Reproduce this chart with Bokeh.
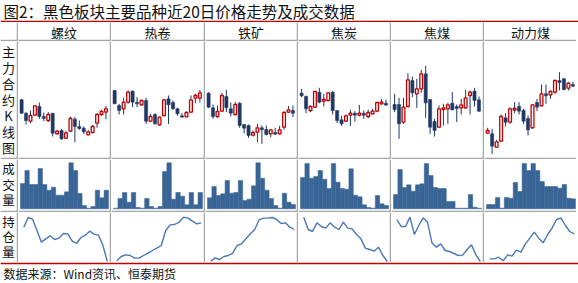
from bokeh.plotting import figure
from bokeh.layouts import column, row
from bokeh.models import Range1d
from bokeh.core.properties import value
from bokeh.embed import file_html
from bokeh.resources import INLINE

# ---------------- data (relative price/volume units) ----------------
title_text = "图2：黑色板块主要品种近20日价格走势及成交数据"
source_text = "数据来源：Wind资讯、恒泰期货"
products = ["螺纹", "热卷", "铁矿", "焦炭", "焦煤", "动力煤"]
row_labels = ["主力合约K线图", "成交量", "持仓量"]
days = list(range(1, 21))

rebar_open = [182, 142, 118, 136, 162, 132, 120, 142, 80, 90, 67, 88, 124, 102, 97, 77, 84, 112, 138, 145]
rebar_high = [185, 145, 150, 164, 174, 144, 145, 142, 92, 94, 88, 132, 130, 120, 102, 92, 106, 142, 152, 164]
rebar_low = [140, 108, 112, 135, 125, 118, 115, 72, 78, 62, 64, 85, 55, 92, 80, 77, 82, 98, 134, 124]
rebar_close = [142, 120, 135, 164, 132, 126, 138, 82, 88, 65, 83, 126, 102, 96, 86, 86, 102, 138, 147, 155]

hc_open = [210, 165, 155, 175, 208, 175, 167, 180, 118, 138, 107, 135, 185, 174, 155, 134, 131, 145, 187, 187]
hc_high = [210, 170, 188, 210, 210, 190, 182, 188, 140, 142, 132, 185, 195, 180, 158, 142, 147, 195, 200, 212]
hc_low = [170, 138, 138, 170, 160, 160, 164, 110, 115, 108, 104, 132, 110, 152, 134, 130, 130, 142, 172, 174]
hc_close = [170, 150, 175, 205, 175, 170, 180, 118, 132, 110, 130, 182, 167, 155, 140, 130, 144, 182, 195, 203]

ore_open = [202, 158, 132, 148, 192, 155, 138, 172, 108, 105, 76, 85, 98, 93, 80, 84, 80, 100, 145, 150]
ore_high = [205, 168, 165, 202, 212, 174, 175, 175, 108, 108, 90, 110, 105, 105, 95, 98, 104, 148, 163, 165]
ore_low = [158, 125, 128, 145, 145, 132, 135, 98, 82, 68, 72, 55, 50, 75, 70, 77, 78, 92, 143, 130]
ore_close = [160, 132, 147, 195, 158, 142, 168, 105, 97, 75, 84, 98, 92, 78, 92, 79, 92, 144, 152, 142]

coke_open = [202, 192, 150, 160, 205, 178, 180, 205, 150, 122, 118, 136, 142, 136, 142, 132, 140, 148, 170, 172]
coke_high = [215, 195, 165, 207, 218, 200, 205, 208, 150, 134, 138, 152, 148, 167, 150, 153, 155, 175, 185, 182]
coke_low = [190, 142, 145, 158, 172, 162, 178, 138, 112, 104, 115, 104, 117, 132, 125, 127, 138, 145, 168, 166]
coke_close = [194, 155, 162, 207, 175, 183, 203, 150, 120, 110, 134, 142, 136, 142, 136, 144, 148, 174, 175, 166]

cc_open = [168, 168, 115, 162, 240, 200, 215, 260, 183, 117, 100, 153, 155, 172, 162, 158, 158, 195, 208, 182]
cc_high = [200, 188, 188, 262, 252, 245, 272, 284, 183, 125, 165, 170, 173, 205, 168, 185, 212, 210, 218, 192]
cc_low = [145, 65, 110, 160, 190, 158, 203, 128, 80, 72, 98, 105, 110, 150, 115, 138, 155, 138, 162, 146]
cc_close = [153, 110, 160, 242, 203, 215, 260, 173, 100, 90, 155, 158, 167, 152, 156, 167, 188, 205, 180, 148]

tc_open = [82, 80, 40, 58, 128, 115, 151, 162, 150, 126, 98, 174, 164, 200, 197, 205, 240, 245, 217, 228]
tc_high = [98, 95, 62, 138, 142, 160, 175, 175, 155, 135, 168, 185, 228, 228, 210, 242, 265, 248, 235, 236]
tc_low = [80, 20, 38, 56, 102, 110, 142, 138, 110, 75, 95, 148, 162, 170, 185, 200, 210, 210, 210, 220]
tc_close = [90, 43, 56, 132, 115, 155, 156, 148, 118, 92, 167, 160, 200, 194, 207, 240, 234, 213, 232, 223]

rebar_vol = [76, 115, 73, 73, 121, 73, 56, 65, 41, 41, 51, 138, 115, 46, 10, 2, 7, 56, 33, 56]
hc_vol = [2, 31, 49, 20, 49, 4, 2, 31, 7, 2, 7, 112, 138, 29, 49, 38, 12, 49, 12, 49]
ore_vol = [33, 67, 40, 45, 85, 47, 49, 85, 25, 29, 69, 138, 92, 56, 31, 10, 2, 47, 20, 13]
coke_vol = [94, 136, 92, 97, 115, 89, 61, 136, 80, 61, 59, 120, 41, 36, 12, 4, 2, 40, 15, 10]
cc_vol = [43, 118, 64, 72, 53, 72, 75, 136, 100, 64, 61, 61, 22, 22, 2, 2, 2, 43, 5, 2]
tc_vol = [13, 13, 34, 2, 34, 32, 79, 52, 136, 115, 136, 115, 82, 67, 67, 67, 62, 73, 32, 30]

rebar_oi = [115, 144, 139, 105, 70, 80, 89, 78, 82, 96, 95, 74, 66, 84, 91, 103, 94, 91, 60, 12]
hc_oi = [14, 27, 32, 30, 22, 22, 30, 37, 45, 52, 60, 105, 122, 123, 130, 145, 142, 133, 125, 128]
ore_oi = [13, 23, 18, 27, 30, 37, 60, 65, 80, 95, 108, 137, 142, 142, 144, 138, 126, 128, 115, 108]
coke_oi = [145, 108, 102, 128, 117, 112, 128, 115, 108, 130, 112, 110, 93, 80, 52, 48, 43, 55, 30, 12]
cc_oi = [138, 117, 117, 145, 93, 120, 143, 130, 68, 55, 65, 45, 42, 36, 30, 31, 48, 62, 32, 12]
tc_oi = [20, 20, 25, 14, 32, 28, 46, 40, 65, 82, 100, 82, 68, 93, 112, 138, 143, 120, 102, 95]

ohlc = [
    (rebar_open, rebar_high, rebar_low, rebar_close),
    (hc_open, hc_high, hc_low, hc_close),
    (ore_open, ore_high, ore_low, ore_close),
    (coke_open, coke_high, coke_low, coke_close),
    (cc_open, cc_high, cc_low, cc_close),
    (tc_open, tc_high, tc_low, tc_close),
]
volumes = [rebar_vol, hc_vol, ore_vol, coke_vol, cc_vol, tc_vol]
open_interest = [rebar_oi, hc_oi, ore_oi, coke_oi, cc_oi, tc_oi]

# ---------------- styling ----------------
FONT = value("Noto Sans CJK SC")
GRID = "#A6A6A6"
RED = "#C00000"
NAVY = "#1F3864"
BAR = "#386496"
LINE = "#4A78B4"
TXT = "#111111"

col_widths = [18, 93, 94, 93, 93, 93, 92]
H_HEAD, H_K, H_VOL, H_OI = 19, 118, 53, 50


def cell(w, h, right=2, bottom=2, border=GRID, top=0, x_range=None, y_range=None):
    p = figure(width=w, height=h, output_backend="svg", toolbar_location=None,
               x_axis_location=None, y_axis_location=None,
               min_border_left=0, min_border_top=top, min_border_right=right,
               min_border_bottom=bottom, border_fill_color=border,
               background_fill_color="white", outline_line_color=None,
               x_range=x_range if x_range is not None else Range1d(0, 1),
               y_range=y_range if y_range is not None else Range1d(0, 1))
    p.grid.visible = False
    return p


# title
title = cell(578, 22, right=0, bottom=2, border=RED,
             x_range=Range1d(0, 578), y_range=Range1d(20, 0))
title.text(x=[3], y=[10.5], text=[title_text], text_font=FONT, text_font_size="15.5px",
           text_color=TXT, text_align="left", text_baseline="middle")

# header row
header_cells = [cell(col_widths[0], H_HEAD)]
for i, name in enumerate(products):
    w = col_widths[i + 1]
    p = cell(w, H_HEAD, right=0 if i == 5 else 2)
    p.text(x=[0.5], y=[0.42], text=[name], text_font=FONT, text_font_size="13px",
           text_color=TXT, text_align="center", text_baseline="middle")
    header_cells.append(p)


def label_cell(h, bottom, chars, ys, top_y, size="13px"):
    p = cell(col_widths[0], h, bottom=bottom,
             x_range=Range1d(0, 16), y_range=Range1d(top_y + h - bottom, top_y))
    p.text(x=[8] * len(chars), y=ys, text=list(chars), text_font=FONT,
           text_font_size=size, text_color=TXT, text_align="center",
           text_baseline="middle")
    return p


# K-line row
k_cells = [label_cell(H_K, 2, row_labels[0], [51, 67, 83, 99, 115, 131, 147], 41)]
for i, (o, hi, lo, c) in enumerate(ohlc):
    p = cell(col_widths[i + 1], H_K, right=0 if i == 5 else 2,
             x_range=Range1d(0.3, 20.8), y_range=Range1d(9, 357))
    p.segment(x0=days, y0=hi, x1=days, y1=lo, line_color=NAVY, line_width=1)
    up_x = [d for d, a, b in zip(days, o, c) if b >= a]
    up_top = [b for a, b in zip(o, c) if b >= a]
    up_bot = [a for a, b in zip(o, c) if b >= a]
    dn_x = [d for d, a, b in zip(days, o, c) if b < a]
    dn_top = [a for a, b in zip(o, c) if b < a]
    dn_bot = [b for a, b in zip(o, c) if b < a]
    p.vbar(x=dn_x, width=0.72, top=dn_top, bottom=dn_bot, fill_color=NAVY,
           line_color=NAVY, line_width=0.5)
    p.vbar(x=up_x, width=0.62, top=up_top, bottom=up_bot, fill_color="white",
           line_color=RED, line_width=1.3)
    k_cells.append(p)

# volume row
v_cells = [label_cell(H_VOL, 2, row_labels[1], [168, 184, 199], 159, "12.5px")]
for i, vol in enumerate(volumes):
    p = cell(col_widths[i + 1], H_VOL, right=0 if i == 5 else 2,
             x_range=Range1d(0.05, 20.73), y_range=Range1d(-5, 148))
    p.vbar(x=days, width=1.0, top=vol, bottom=0, fill_color=BAR, line_color=BAR,
           line_width=0.5)
    v_cells.append(p)

# open-interest row
oi_cells = [label_cell(H_OI, 0, row_labels[2], [221, 236, 251], 212, "12.5px")]
for i, oi in enumerate(open_interest):
    p = cell(col_widths[i + 1], H_OI, right=0 if i == 5 else 2, bottom=0,
             x_range=Range1d(-0.2, 20.5), y_range=Range1d(9, 159))
    p.line(x=days, y=oi, line_color=LINE, line_width=1.4)
    oi_cells.append(p)

# footer
footer = cell(578, 21, right=0, bottom=0, top=2, border=RED,
              x_range=Range1d(0, 578), y_range=Range1d(283, 264))
footer.text(x=[3], y=[272.5], text=[source_text], text_font=FONT, text_font_size="12px",
            text_color=TXT, text_align="left", text_baseline="middle")

layout = column(title, row(*header_cells), row(*k_cells), row(*v_cells),
                row(*oi_cells), footer)

open("out.html", "w").write(file_html(layout, INLINE))
